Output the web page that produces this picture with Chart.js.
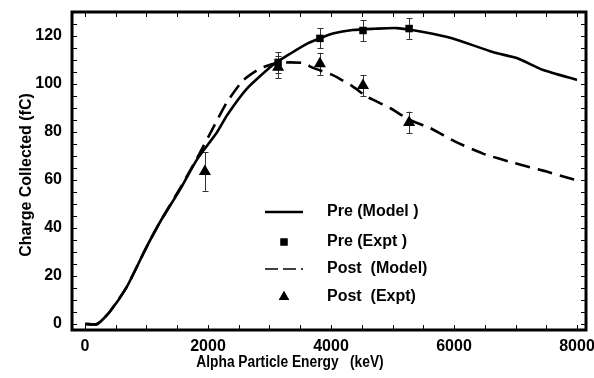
<!DOCTYPE html>
<html>
<head>
<meta charset="utf-8">
<script src="https://cdn.jsdelivr.net/npm/chart.js@4.4.0/dist/chart.umd.min.js"></script>
<style>
  html, body { margin: 0; padding: 0; background: #fff; }
  #wrap { width: 594px; height: 378px; }
</style>
</head>
<body>
<div id="wrap"><canvas id="c" width="594" height="378"></canvas></div>
<script>
// energies in keV, charge in fC
var preModelE  = [0, 200, 400, 680, 980, 1220, 1545, 1820, 2150, 2310, 2630, 3060, 3330, 3630, 3820, 4030, 4350, 4700, 5070, 5500, 5980, 6630, 7020, 7450, 8000];
var preModelQ  = [0, 0, 5, 15.5, 31, 42.5, 56, 68.5, 80, 87, 98, 108, 112.5, 117, 119, 121, 122.5, 123, 123.3, 121.7, 119, 113.3, 110.8, 105.8, 101.7];

var postModelE = [0, 200, 400, 680, 980, 1220, 1545, 1820, 2150, 2310, 2570, 2850, 3120, 3330, 3550, 3710, 4030, 4340, 4590, 4960, 5280, 5610, 6020, 6470, 6990, 7480, 7920, 8000];
var postModelQ = [0, 0, 5, 15.5, 31, 42.5, 56.5, 69, 85, 92.5, 101.5, 106.5, 108.7, 109, 108.7, 106.7, 103.7, 99.2, 94.6, 90, 85, 81.7, 76, 71, 67, 63.7, 60.4, 60];

var preExptE   = [3140, 3820, 4520, 5270];
var preExptQ   = [109, 119, 122.3, 123.1];
var preExptErr = [4.3, 4.2, 4.4, 4.4];

var postExptE   = [1950, 3140, 3820, 4520, 5270];
var postExptQ   = [63.5, 107, 108.4, 99.4, 84];
var postExptErr = [8, 4.5, 4.6, 4.4, 4.5];

var xTicks = [0, 2000, 4000, 6000, 8000];
var yTicks = [0, 20, 40, 60, 80, 100, 120];
var xMinorStep = 500, yMinorStep = 5;

var legendLabels = ['Pre (Model )', 'Pre (Expt )', 'Post  (Model)', 'Post  (Expt)'];

var FONT = "'Liberation Sans',Arial,sans-serif";

function pts(xs, ys) {
  return xs.map(function(x, i) { return { x: x, y: ys[i] }; });
}

var datasets = [
  { label: legendLabels[0], data: pts(preModelE, preModelQ), showLine: true,
    borderColor: '#000', borderWidth: 2.6, pointRadius: 0, tension: 0.2 },
  { label: legendLabels[1], data: pts(preExptE, preExptQ), showLine: false,
    pointStyle: 'rect', pointRadius: 5.3, backgroundColor: '#000', borderColor: '#000', borderWidth: 0,
    errors: preExptErr },
  { label: legendLabels[2], data: pts(postModelE, postModelQ), showLine: true,
    borderColor: '#000', borderWidth: 2.6, borderDash: [15, 8], pointRadius: 0, tension: 0.2 },
  { label: legendLabels[3], data: pts(postExptE, postExptQ), showLine: false,
    pointStyle: 'triangle', pointRadius: 7, backgroundColor: '#000', borderColor: '#000', borderWidth: 0,
    errors: postExptErr }
];

var decor = {
  id: 'decor',
  beforeDatasetsDraw: function(chart) {
    // error bars
    var ctx = chart.ctx, xs = chart.scales.x, ys = chart.scales.y;
    ctx.save();
    ctx.strokeStyle = '#333';
    ctx.lineWidth = 1;
    chart.data.datasets.forEach(function(ds) {
      if (!ds.errors) return;
      ds.data.forEach(function(p, i) {
        var px = Math.round(xs.getPixelForValue(p.x)) + 0.5;
        var y1 = ys.getPixelForValue(p.y + ds.errors[i]);
        var y2 = ys.getPixelForValue(p.y - ds.errors[i]);
        ctx.beginPath();
        ctx.moveTo(px, y1); ctx.lineTo(px, y2);
        ctx.moveTo(px - 3, Math.round(y1) + 0.5); ctx.lineTo(px + 3, Math.round(y1) + 0.5);
        ctx.moveTo(px - 3, Math.round(y2) + 0.5); ctx.lineTo(px + 3, Math.round(y2) + 0.5);
        ctx.stroke();
      });
    });
    ctx.restore();
  },
  afterDraw: function(chart) {
    var ctx = chart.ctx, a = chart.chartArea, xs = chart.scales.x, ys = chart.scales.y;
    ctx.save();
    // frame
    ctx.strokeStyle = '#000';
    ctx.lineWidth = 3;
    ctx.strokeRect(a.left, a.top, a.right - a.left, a.bottom - a.top);
    // inward ticks on all four sides
    ctx.lineWidth = 1;
    ctx.beginPath();
    var v, p;
    for (v = 0; v <= xs.max; v += xMinorStep) {
      p = Math.round(xs.getPixelForValue(v)) + 0.5;
      ctx.moveTo(p, a.bottom - 1); ctx.lineTo(p, a.bottom - 5);
      ctx.moveTo(p, a.top + 1); ctx.lineTo(p, a.top + 5);
    }
    for (v = 0; v <= ys.max; v += yMinorStep) {
      p = Math.round(ys.getPixelForValue(v)) + 0.5;
      ctx.moveTo(a.left + 1, p); ctx.lineTo(a.left + 5, p);
      ctx.moveTo(a.right - 1, p); ctx.lineTo(a.right - 5, p);
    }
    ctx.stroke();

    // axis titles
    ctx.fillStyle = '#000';
    ctx.textAlign = 'center';
    ctx.textBaseline = 'middle';
    ctx.font = 'bold 16px ' + FONT;
    ctx.save();
    ctx.translate(290, 363);
    ctx.scale(0.86, 1);
    ctx.fillText('Alpha Particle Energy   (keV)', 0, 0);
    ctx.restore();
    ctx.save();
    ctx.translate(27, 175);
    ctx.rotate(-Math.PI / 2);
    ctx.fillText('Charge Collected (fC)', 0, 0);
    ctx.restore();

    // legend
    var rowY = [212, 242, 269, 297];
    var symL = 265, symR = 303, symC = 284, textX = 327;
    chart.data.datasets.forEach(function(ds, i) {
      var y = rowY[i];
      if (ds.showLine) {
        ctx.save();
        ctx.strokeStyle = '#000';
        ctx.lineWidth = ds.borderDash ? 1.5 : 2.6;
        ctx.setLineDash(ds.borderDash ? [13, 5] : []);
        ctx.beginPath();
        ctx.moveTo(symL, y); ctx.lineTo(symR, y);
        ctx.stroke();
        ctx.restore();
      } else {
        Chart.helpers.drawPoint(ctx, { pointStyle: ds.pointStyle, radius: ds.pointStyle === 'rect' ? 5 : 6, borderWidth: 0 }, symC, y);
        ctx.fill();
      }
      ctx.textAlign = 'left';
      ctx.font = 'bold 16px ' + FONT;
      ctx.fillText(ds.label, textX, y);
    });
    ctx.restore();
  }
};

function plain(v) { return String(v); }

new Chart(document.getElementById('c'), {
  type: 'scatter',
  data: { datasets: datasets },
  options: {
    responsive: false,
    animation: false,
    devicePixelRatio: 1,
    layout: { padding: { top: 12, right: 8, left: 0, bottom: 0 } },
    plugins: { legend: { display: false }, tooltip: { enabled: false } },
    scales: {
      x: {
        type: 'linear', min: -211, max: 8146,
        grid: { display: false, drawTicks: false },
        border: { display: false },
        ticks: { color: '#000', padding: 7, callback: plain, font: { family: FONT, size: 16, weight: 'bold' } },
        afterBuildTicks: function(s) { s.ticks = xTicks.map(function(v) { return { value: v }; }); },
        afterFit: function(s) { s.height = 48; s.paddingLeft = 0; s.paddingRight = 0; }
      },
      y: {
        type: 'linear', min: -2.5, max: 130,
        grid: { display: false, drawTicks: false },
        border: { display: false },
        ticks: { color: '#000', padding: 10, callback: plain, font: { family: FONT, size: 16, weight: 'bold' } },
        afterBuildTicks: function(s) { s.ticks = yTicks.map(function(v) { return { value: v }; }); },
        afterFit: function(s) { s.width = 72; s.paddingTop = 0; s.paddingBottom = 0; }
      }
    }
  },
  plugins: [decor]
});
</script>
</body>
</html>
